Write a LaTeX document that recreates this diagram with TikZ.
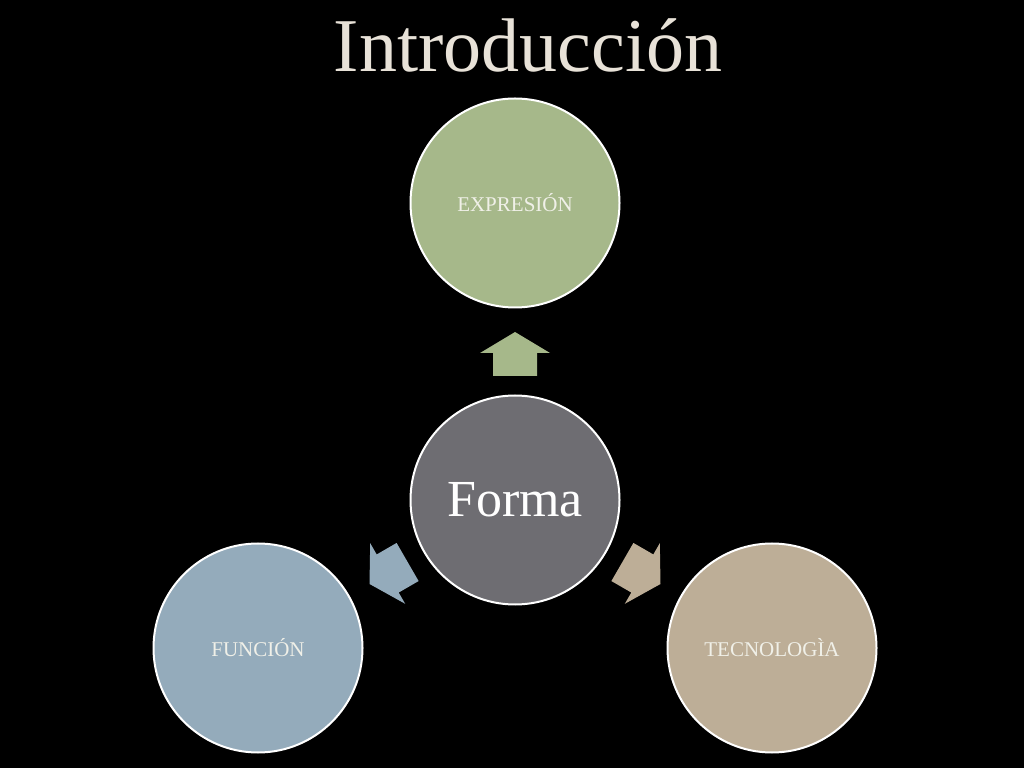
\documentclass[tikz,border=0pt]{standalone}
\usepackage{fontspec}
\setmainfont{Liberation Serif}
\definecolor{cgreen}{RGB}{166,184,138}
\definecolor{cgray}{RGB}{110,109,114}
\definecolor{cblue}{RGB}{148,171,187}
\definecolor{ctan}{RGB}{189,174,151}
\definecolor{ctitle}{RGB}{232,226,216}
\definecolor{clabel}{RGB}{240,240,232}
\tikzset{
  bubble/.style={circle, draw=white, line width=2pt, minimum size=209pt, inner sep=0pt},
  smalllabel/.style={text=clabel, font=\fontsize{21}{25}\selectfont},
}
\newcommand{\blockarr}[2]{%
  \begin{scope}[shift={(forma.center)}, rotate=#1]
    \fill[#2] (-22,124) -- (-22,147) -- (-35,147) -- (0,168) -- (35,147) -- (22,147) -- (22,124) -- cycle;
  \end{scope}}
\begin{document}
\begin{tikzpicture}[x=1pt,y=1pt]
  \fill[black] (0,0) rectangle (1024,768);
  \useasboundingbox (0,0) rectangle (1024,768);
  \node[text=ctitle, font=\fontsize{76}{84}\selectfont, anchor=base] (title) at (528,696) {Introducción};
  \node[bubble, fill=cgray, text=white, font=\fontsize{52}{60}\selectfont] (forma) at (515,268) {Forma};
  \node[bubble, fill=cgreen, smalllabel] (expr) at (515,565) {EXPRESIÓN};
  \node[bubble, fill=cblue, smalllabel] (func) at (258,120) {FUNCIÓN};
  \node[bubble, fill=ctan, smalllabel] (tecn) at (772,120) {TECNOLOGÌA};
  \blockarr{0}{cgreen}
  \blockarr{120}{cblue}
  \blockarr{-120}{ctan}
\end{tikzpicture}
\end{document}
